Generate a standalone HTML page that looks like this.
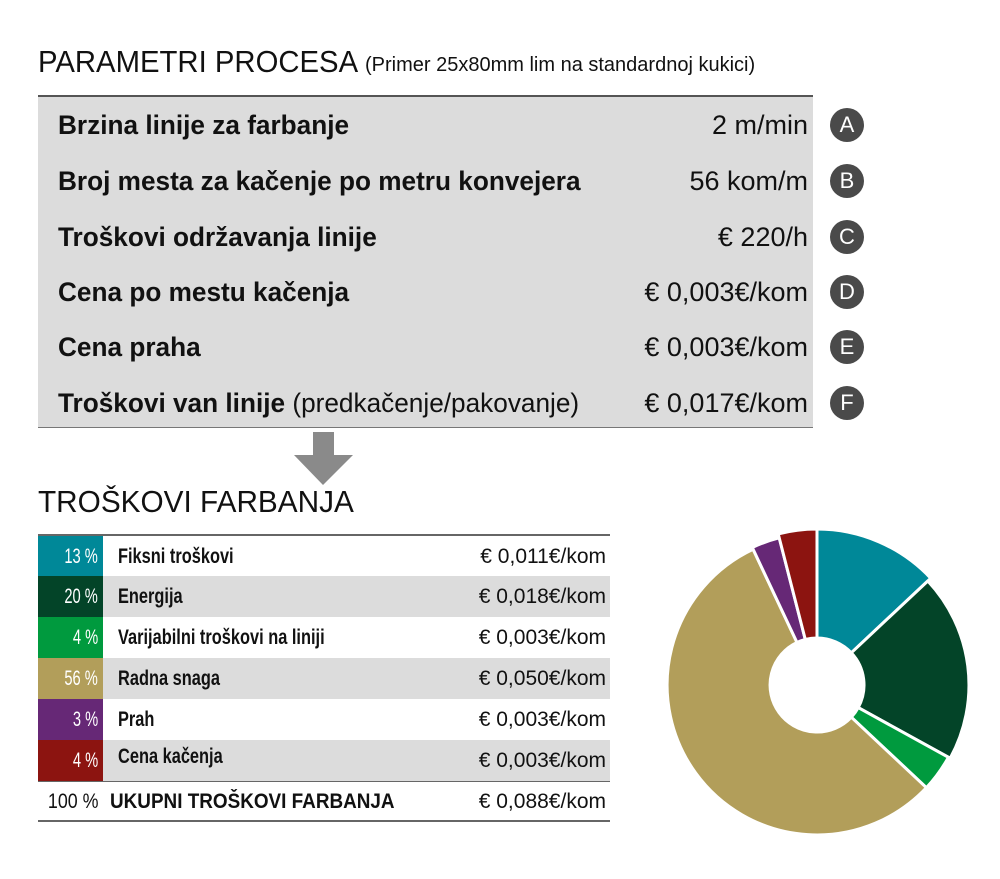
<!DOCTYPE html>
<html><head><meta charset="utf-8"><style>
body{margin:0;width:1000px;height:879px;background:#fff;position:relative;overflow:hidden;font-family:"Liberation Sans",sans-serif;color:#111}
.a{position:absolute;white-space:nowrap}
.t1{font-family:"Liberation Sans",sans-serif;font-size:31px;color:#111;transform-origin:0 0}
.box{position:absolute;left:38px;top:95px;width:775px;height:333px;background:#dcdcdc;border-top:2px solid #555;border-bottom:1px solid #777;box-sizing:border-box}
.r{position:absolute;left:58px;width:750px;height:40px;line-height:40px;font-size:27px}
.r .l{position:absolute;left:0;top:0;transform:scaleX(0.97);transform-origin:0 50%}
.r b{font-weight:bold}
.r .v{position:absolute;right:0;top:0}
.c{position:absolute;left:830px;width:34px;height:34px;border-radius:50%;background:#4a4a4a;color:#fff;font-family:"Liberation Sans",sans-serif;font-size:22px;line-height:34px;text-align:center}
.row{position:absolute;left:38px;width:572px;height:41px;font-size:20px;line-height:41px}
.row .p{position:absolute;left:0;top:0;width:65px;height:41px;color:#fff}
.row .p span{position:absolute;right:5px;top:0;transform:scaleX(0.7);transform-origin:100% 50%;font-size:21px}
.row .n{position:absolute;left:80px;top:0;font-weight:bold;font-size:21px;transform:scaleX(0.78);transform-origin:0 50%}
.row .v{position:absolute;right:4px;top:0;font-size:21px}
.g{background:#dcdcdc}
</style></head><body>
<div class="a t1" style="left:38px;top:44px;transform:scaleX(0.945)">PARAMETRI PROCESA</div>
<div class="a" style="left:365px;top:54px;font-size:20px">(Primer 25x80mm lim na standardnoj kukici)</div>
<div class="box"></div>
<div class="r" style="top:105px"><span class="l"><b>Brzina linije za farbanje</b></span><span class="v">2 m/min</span></div>
<div class="r" style="top:161px"><span class="l"><b>Broj mesta za kačenje po metru konvejera</b></span><span class="v">56 kom/m</span></div>
<div class="r" style="top:217px"><span class="l"><b>Troškovi održavanja linije</b></span><span class="v">€ 220/h</span></div>
<div class="r" style="top:272px"><span class="l"><b>Cena po mestu kačenja</b></span><span class="v">€ 0,003€/kom</span></div>
<div class="r" style="top:327px"><span class="l"><b>Cena praha</b></span><span class="v">€ 0,003€/kom</span></div>
<div class="r" style="top:383px"><span class="l"><b>Troškovi van linije</b> (predkačenje/pakovanje)</span><span class="v">€ 0,017€/kom</span></div>
<div class="c" style="top:108px">A</div>
<div class="c" style="top:164px">B</div>
<div class="c" style="top:220px">C</div>
<div class="c" style="top:275px">D</div>
<div class="c" style="top:330px">E</div>
<div class="c" style="top:386px">F</div>
<svg class="a" style="left:0;top:0" width="1000" height="879">
<rect x="313" y="432" width="21" height="24" fill="#8a8a8a"/>
<polygon points="294,455 353,455 323,485" fill="#8a8a8a"/>
<g stroke="#fff" stroke-width="3" stroke-linejoin="round">
<path d="M817,529 A156,156 0 0 1 930.7,578.2 L851.3,652.8 A47,47 0 0 0 817,638 Z" fill="#008898"/>
<path d="M927.8,581 A152,152 0 0 1 950.2,758.2 L858.2,707.6 A47,47 0 0 0 851.3,652.8 Z" fill="#034428"/>
<path d="M948.4,757.3 A150,150 0 0 1 926.4,787.7 L851.3,717.2 A47,47 0 0 0 858.2,707.6 Z" fill="#009a3e"/>
<path d="M926.4,787.7 A150,150 0 1 1 753.1,549.3 L797,642.5 A47,47 0 1 0 851.3,717.2 Z" fill="#b29e5a"/>
<path d="M752.3,547.5 A152,152 0 0 1 779.2,537.8 L805.3,639.5 A47,47 0 0 0 797,642.5 Z" fill="#662876"/>
<path d="M778.2,533.9 A156,156 0 0 1 817,529 L817,638 A47,47 0 0 0 805.3,639.5 Z" fill="#8c1410"/>
</g>
<line x1="38" y1="535" x2="610" y2="535" stroke="#666" stroke-width="2"/>
<line x1="38" y1="781" x2="610" y2="781" stroke="#666" stroke-width="2"/>
<line x1="38" y1="821" x2="610" y2="821" stroke="#666" stroke-width="2"/>
</svg>
<div class="a t1" style="left:38px;top:484px;transform:scaleX(0.96)">TROŠKOVI FARBANJA</div>
<div class="row" style="top:536px"><span class="p" style="background:#008898"><span>13 %</span></span><span class="n">Fiksni troškovi</span><span class="v">€ 0,011€/kom</span></div>
<div class="row g" style="top:576px"><span class="p" style="background:#034428"><span>20 %</span></span><span class="n">Energija</span><span class="v">€ 0,018€/kom</span></div>
<div class="row" style="top:617px"><span class="p" style="background:#009a3e"><span>4 %</span></span><span class="n">Varijabilni troškovi na liniji</span><span class="v">€ 0,003€/kom</span></div>
<div class="row g" style="top:658px"><span class="p" style="background:#b29e5a"><span>56 %</span></span><span class="n">Radna snaga</span><span class="v">€ 0,050€/kom</span></div>
<div class="row" style="top:699px"><span class="p" style="background:#662876"><span>3 %</span></span><span class="n">Prah</span><span class="v">€ 0,003€/kom</span></div>
<div class="row g" style="top:740px;height:41px"><span class="p" style="background:#8c1410"><span>4 %</span></span><span class="n" style="top:-4px">Cena kačenja</span><span class="v">€ 0,003€/kom</span></div>
<div class="row" style="top:781px"><span class="p" style="color:#111;width:66px"><span style="transform:scaleX(0.85)">100 %</span></span><span class="n" style="left:72px;transform:scaleX(0.9)">UKUPNI TROŠKOVI FARBANJA</span><span class="v">€ 0,088€/kom</span></div>
</body></html>
